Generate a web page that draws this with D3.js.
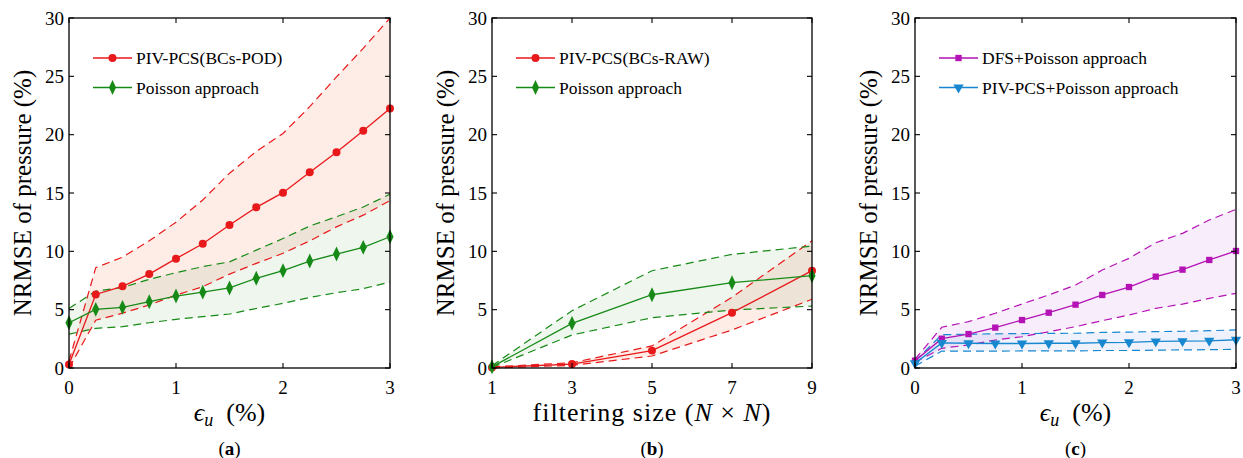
<!DOCTYPE html>
<html>
<head>
    <title>NRMSE of pressure - three panels</title>
    <script src="https://d3js.org/d3.v7.min.js"></script>
    <style>
        body { margin: 0; background: white; }
        svg text { font-family: "Liberation Serif", "DejaVu Serif", serif; fill: black; }
        .tick-label { font-size: 19px; }
        .axis-title { font-size: 26px; }
        .legend-text { font-size: 17.5px; }
    </style>
</head>
<body>
    <svg id="chart"></svg>

    <script>
        // x values
        var epsU = [0, 0.25, 0.5, 0.75, 1, 1.25, 1.5, 1.75, 2, 2.25, 2.5, 2.75, 3];
        var filterSize = [1, 3, 5, 7, 9];
        var yTicks = [0, 5, 10, 15, 20, 25, 30];
        var epsTicks = [0, 1, 2, 3];
        var filterTicks = [1, 3, 5, 7, 9];

        // panel (a)
        var podMean  = [0.3, 6.3, 7.0, 8.05, 9.37, 10.65, 12.25, 13.77, 15.03, 16.77, 18.5, 20.34, 22.25];
        var podUpper = [0.6, 8.6, 9.5, 10.9, 12.5, 14.4, 16.7, 18.55, 20.1, 22.4, 24.95, 27.4, 30.0];
        var podLower = [0.0, 4.1, 4.7, 5.4, 6.25, 6.97, 8.05, 8.97, 9.83, 10.9, 12.1, 13.1, 14.35];
        var poissonAMean  = [3.88, 5.03, 5.2, 5.68, 6.17, 6.5, 6.86, 7.69, 8.34, 9.17, 9.77, 10.34, 11.25];
        var poissonAUpper = [5.1, 6.6, 6.9, 7.6, 8.17, 8.69, 9.1, 10.1, 11.1, 12.17, 12.97, 13.8, 14.9];
        var poissonALower = [2.9, 3.4, 3.54, 3.88, 4.17, 4.4, 4.63, 5.1, 5.54, 6.05, 6.45, 6.8, 7.37];

        // panel (b)
        var rawMean  = [0.05, 0.34, 1.49, 4.74, 8.34];
        var rawUpper = [0.1, 0.45, 1.89, 6.06, 10.9];
        var rawLower = [0.0, 0.23, 1.03, 3.26, 5.89];
        var poissonBMean  = [0.1, 3.83, 6.28, 7.31, 7.91];
        var poissonBUpper = [0.2, 4.91, 8.34, 9.74, 10.45];
        var poissonBLower = [0.05, 2.83, 4.31, 4.97, 5.31];

        // panel (c)
        var dfsMean  = [0.63, 2.51, 2.91, 3.46, 4.11, 4.74, 5.43, 6.26, 6.94, 7.83, 8.43, 9.26, 10.03];
        var dfsUpper = [0.75, 3.49, 3.97, 4.69, 5.49, 6.26, 7.11, 8.4, 9.4, 10.74, 11.54, 12.68, 13.6];
        var dfsLower = [0.5, 1.69, 1.97, 2.4, 2.68, 3.11, 3.54, 4.06, 4.54, 5.11, 5.48, 5.97, 6.4];
        var pcsMean  = [0.4, 2.15, 2.12, 2.1, 2.1, 2.12, 2.12, 2.18, 2.2, 2.28, 2.3, 2.33, 2.42];
        var pcsUpper = [0.6, 2.85, 2.9, 2.93, 2.95, 2.97, 2.98, 3.05, 3.08, 3.12, 3.15, 3.2, 3.26];
        var pcsLower = [0.15, 1.45, 1.45, 1.45, 1.46, 1.46, 1.46, 1.5, 1.5, 1.53, 1.55, 1.57, 1.6];

        var svg = d3.select('#chart').attr('width', 1243).attr('height', 458);

        var panels = [
            {
                left: 69, right: 390, xs: epsU, xDomain: [0, 3], xTicks: epsTicks, xTitle: 'eps', tag: 'a',
                series: [
                    { name: 'PIV-PCS(BCs-POD)', mean: podMean, upper: podUpper, lower: podLower, color: '#e8191b', fill: '#f5632f', fillOpacity: 0.12, marker: 'circle' },
                    { name: 'Poisson approach', mean: poissonAMean, upper: poissonAUpper, lower: poissonALower, color: '#168a16', fill: '#2a8f2a', fillOpacity: 0.08, marker: 'diamond' }
                ]
            },
            {
                left: 492, right: 812, xs: filterSize, xDomain: [1, 9], xTicks: filterTicks, xTitle: 'filter', tag: 'b',
                series: [
                    { name: 'PIV-PCS(BCs-RAW)', mean: rawMean, upper: rawUpper, lower: rawLower, color: '#e8191b', fill: '#f5632f', fillOpacity: 0.12, marker: 'circle' },
                    { name: 'Poisson approach', mean: poissonBMean, upper: poissonBUpper, lower: poissonBLower, color: '#168a16', fill: '#2a8f2a', fillOpacity: 0.08, marker: 'diamond' }
                ]
            },
            {
                left: 915, right: 1236, xs: epsU, xDomain: [0, 3], xTicks: epsTicks, xTitle: 'eps', tag: 'c',
                series: [
                    { name: 'DFS+Poisson approach', mean: dfsMean, upper: dfsUpper, lower: dfsLower, color: '#b512b5', fill: '#b040d0', fillOpacity: 0.09, marker: 'square' },
                    { name: 'PIV-PCS+Poisson approach', mean: pcsMean, upper: pcsUpper, lower: pcsLower, color: '#1787d0', fill: '#5070e0', fillOpacity: 0.09, marker: 'triangle' }
                ]
            }
        ];

        var plotTop = 18, plotBottom = 368;
        var y = d3.scaleLinear().domain([0, 30]).range([plotBottom, plotTop]);

        var symbols = {
            circle: d3.symbol().type(d3.symbolCircle).size(50),
            diamond: d3.symbol().type(d3.symbolDiamond).size(48),
            square: d3.symbol().type(d3.symbolSquare).size(40),
            triangle: d3.symbol().type(d3.symbolTriangle).size(46)
        };

        function markerTransform(marker) {
            if (marker === 'diamond') return ' scale(0.95,1.15)';
            if (marker === 'triangle') return ' rotate(180)';
            return '';
        }

        panels.forEach(function (p) {
            var x = d3.scaleLinear().domain(p.xDomain).range([p.left, p.right]);
            var g = svg.append('g');

            // shaded bands
            p.series.forEach(function (s) {
                var area = d3.area()
                    .x(function (d, i) { return x(p.xs[i]); })
                    .y0(function (d, i) { return y(s.lower[i]); })
                    .y1(function (d) { return y(d); });
                g.append('path')
                    .datum(s.upper)
                    .attr('d', area)
                    .attr('fill', s.fill)
                    .attr('fill-opacity', s.fillOpacity);
            });

            // dashed bounds
            p.series.forEach(function (s) {
                var line = d3.line()
                    .x(function (d, i) { return x(p.xs[i]); })
                    .y(function (d) { return y(d); });
                [s.upper, s.lower].forEach(function (arr) {
                    g.append('path')
                        .datum(arr)
                        .attr('d', line)
                        .attr('fill', 'none')
                        .attr('stroke', s.color)
                        .attr('stroke-width', 1.2)
                        .attr('stroke-dasharray', '8,5');
                });
            });

            // mean lines with markers
            p.series.forEach(function (s) {
                var line = d3.line()
                    .x(function (d, i) { return x(p.xs[i]); })
                    .y(function (d) { return y(d); });
                g.append('path')
                    .datum(s.mean)
                    .attr('d', line)
                    .attr('fill', 'none')
                    .attr('stroke', s.color)
                    .attr('stroke-width', 1.3);
                g.selectAll(null)
                    .data(s.mean)
                    .enter().append('path')
                    .attr('d', symbols[s.marker])
                    .attr('transform', function (d, i) {
                        return 'translate(' + x(p.xs[i]) + ',' + y(d) + ')' + markerTransform(s.marker);
                    })
                    .attr('fill', s.color);
            });

            // frame with inward ticks on all sides
            g.append('rect')
                .attr('x', p.left).attr('y', plotTop)
                .attr('width', p.right - p.left).attr('height', plotBottom - plotTop)
                .attr('fill', 'none').attr('stroke', 'black').attr('stroke-width', 1.3);

            var ticks = g.append('g').attr('stroke', 'black').attr('stroke-width', 1.1);
            p.xTicks.forEach(function (t) {
                ticks.append('line').attr('x1', x(t)).attr('x2', x(t)).attr('y1', plotBottom).attr('y2', plotBottom - 5);
                ticks.append('line').attr('x1', x(t)).attr('x2', x(t)).attr('y1', plotTop).attr('y2', plotTop + 5);
                g.append('text').attr('class', 'tick-label')
                    .attr('x', x(t)).attr('y', 394)
                    .attr('text-anchor', 'middle').text(t);
            });
            yTicks.forEach(function (t) {
                ticks.append('line').attr('x1', p.left).attr('x2', p.left + 5).attr('y1', y(t)).attr('y2', y(t));
                ticks.append('line').attr('x1', p.right).attr('x2', p.right - 5).attr('y1', y(t)).attr('y2', y(t));
                g.append('text').attr('class', 'tick-label')
                    .attr('x', p.left - 5).attr('y', y(t) + 6.5)
                    .attr('text-anchor', 'end').text(t);
            });

            // y title
            var cy = (plotTop + plotBottom) / 2;
            g.append('text').attr('class', 'axis-title')
                .attr('transform', 'translate(' + (p.left - 38) + ',' + cy + ') rotate(-90)')
                .attr('text-anchor', 'middle')
                .style('font-size', '25px')
                .text('NRMSE of pressure (%)');

            // x title
            var cx = (p.left + p.right) / 2;
            var xt = g.append('text').attr('class', 'axis-title')
                .attr('x', cx).attr('y', 421).attr('text-anchor', 'middle');
            if (p.xTitle === 'eps') {
                xt.append('tspan').style('font-style', 'italic').text('\u03F5');
                xt.append('tspan').style('font-style', 'italic').style('font-size', '18px').attr('dy', 5).text('u');
                xt.append('tspan').attr('dy', -5).text('\u2002(%)');
            } else {
                xt.style('letter-spacing', '1px');
                xt.append('tspan').text('filtering size (');
                xt.append('tspan').style('font-style', 'italic').text('N');
                xt.append('tspan').text(' \u00D7 ');
                xt.append('tspan').style('font-style', 'italic').text('N');
                xt.append('tspan').text(')');
            }

            // panel tag
            var tg = g.append('text').attr('x', cx).attr('y', 455)
                .attr('text-anchor', 'middle').style('font-size', '19px');
            tg.append('tspan').text('(');
            tg.append('tspan').style('font-weight', 'bold').text(p.tag);
            tg.append('tspan').text(')');

            // legend
            p.series.forEach(function (s, i) {
                var ly = 58 + i * 29.5;
                var lx = p.left + 24;
                g.append('line').attr('x1', lx).attr('x2', lx + 39).attr('y1', ly).attr('y2', ly)
                    .attr('stroke', s.color).attr('stroke-width', 1.3);
                g.append('path').attr('d', symbols[s.marker])
                    .attr('transform', 'translate(' + (lx + 19.5) + ',' + ly + ')' + markerTransform(s.marker))
                    .attr('fill', s.color);
                g.append('text').attr('class', 'legend-text')
                    .attr('x', lx + 43).attr('y', ly + 6).text(s.name);
            });
        });
    </script>
</body>
</html>
